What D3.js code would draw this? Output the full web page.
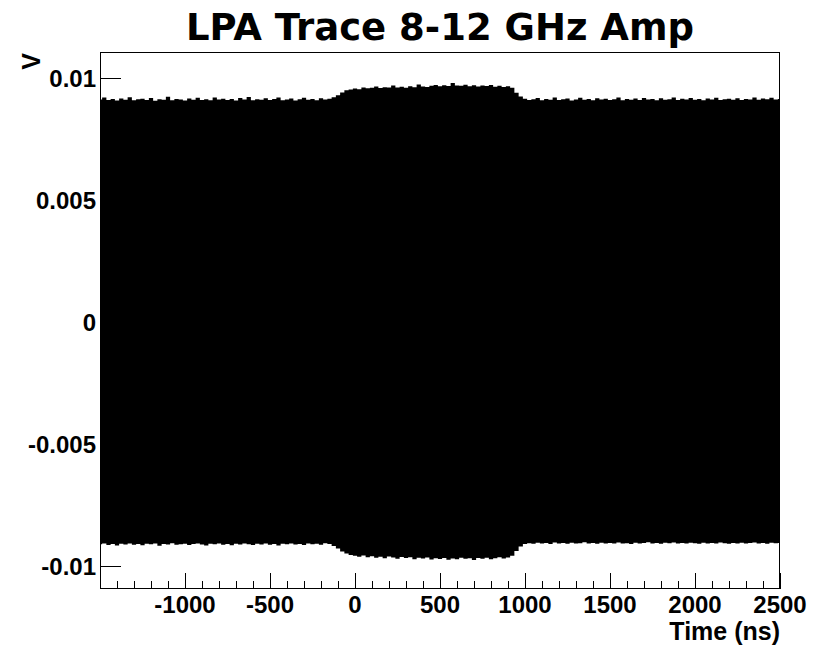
<!DOCTYPE html>
<html>
<head>
<meta charset="utf-8">
<script src="https://cdnjs.cloudflare.com/ajax/libs/d3/7.8.5/d3.min.js"></script>
<style>
body { margin: 0; background: #fff; }
</style>
</head>
<body>
<div id="chart-area"></div>
<script>
// sample times (ns) of the envelope, every 25 ns
var times = [
    -1500, -1475, -1450, -1425, -1400, -1375, -1350, -1325, -1300, -1275,
    -1250, -1225, -1200, -1175, -1150, -1125, -1100, -1075, -1050, -1025,
    -1000, -975, -950, -925, -900, -875, -850, -825, -800, -775,
    -750, -725, -700, -675, -650, -625, -600, -575, -550, -525,
    -500, -475, -450, -425, -400, -375, -350, -325, -300, -275,
    -250, -225, -200, -175, -150, -125, -100, -75, -50, -25,
    0, 25, 50, 75, 100, 125, 150, 175, 200, 225,
    250, 275, 300, 325, 350, 375, 400, 425, 450, 475,
    500, 525, 550, 575, 600, 625, 650, 675, 700, 725,
    750, 775, 800, 825, 850, 875, 900, 925, 950, 975,
    1000, 1025, 1050, 1075, 1100, 1125, 1150, 1175, 1200, 1225,
    1250, 1275, 1300, 1325, 1350, 1375, 1400, 1425, 1450, 1475,
    1500, 1525, 1550, 1575, 1600, 1625, 1650, 1675, 1700, 1725,
    1750, 1775, 1800, 1825, 1850, 1875, 1900, 1925, 1950, 1975,
    2000, 2025, 2050, 2075, 2100, 2125, 2150, 2175, 2200, 2225,
    2250, 2275, 2300, 2325, 2350, 2375, 2400, 2425, 2450, 2475,
    2500];

// upper envelope (mV)
var upperMV = [
    9.12, 9.20, 9.10, 9.14, 9.08, 9.16, 9.11, 9.22, 9.09, 9.13,
    9.15, 9.10, 9.18, 9.07, 9.13, 9.11, 9.24, 9.09, 9.14, 9.12,
    9.08, 9.16, 9.11, 9.19, 9.10, 9.13, 9.09, 9.21, 9.12, 9.15,
    9.10, 9.14, 9.08, 9.18, 9.12, 9.23, 9.09, 9.13, 9.11, 9.17,
    9.10, 9.14, 9.20, 9.09, 9.12, 9.16, 9.08, 9.13, 9.19, 9.11,
    9.14, 9.09, 9.17, 9.12, 9.15, 9.22, 9.30, 9.41, 9.50, 9.53,
    9.57, 9.54, 9.62, 9.58, 9.60, 9.66, 9.59, 9.63, 9.61, 9.70,
    9.62, 9.65, 9.60, 9.67, 9.63, 9.74, 9.66, 9.64, 9.69, 9.72,
    9.67, 9.71, 9.68, 9.80, 9.70, 9.69, 9.73, 9.67, 9.71, 9.66,
    9.70, 9.68, 9.72, 9.65, 9.69, 9.64, 9.67, 9.60, 9.40, 9.25,
    9.15, 9.10, 9.13, 9.18, 9.09, 9.14, 9.11, 9.20, 9.10, 9.13,
    9.16, 9.08, 9.12, 9.19, 9.11, 9.14, 9.09, 9.17, 9.12, 9.15,
    9.10, 9.13, 9.21, 9.09, 9.14, 9.11, 9.16, 9.10, 9.18, 9.12,
    9.14, 9.09, 9.17, 9.11, 9.13, 9.20, 9.10, 9.15, 9.12, 9.18,
    9.11, 9.14, 9.09, 9.16, 9.12, 9.19, 9.10, 9.13, 9.15, 9.11,
    9.17, 9.10, 9.14, 9.12, 9.20, 9.11, 9.16, 9.13, 9.19, 9.12,
    9.14];

// lower envelope (mV)
var lowerMV = [
    -9.11, -9.08, -9.14, -9.10, -9.16, -9.09, -9.12, -9.07, -9.13, -9.10,
    -9.15, -9.09, -9.11, -9.08, -9.17, -9.10, -9.12, -9.06, -9.13, -9.11,
    -9.09, -9.14, -9.10, -9.07, -9.12, -9.16, -9.09, -9.11, -9.08, -9.13,
    -9.10, -9.15, -9.09, -9.12, -9.07, -9.11, -9.14, -9.09, -9.12, -9.08,
    -9.13, -9.10, -9.16, -9.09, -9.11, -9.07, -9.12, -9.10, -9.14, -9.08,
    -9.11, -9.09, -9.13, -9.06, -9.10, -9.18, -9.28, -9.40, -9.49, -9.55,
    -9.58, -9.62, -9.57, -9.64, -9.60, -9.66, -9.62, -9.68, -9.61, -9.65,
    -9.70, -9.63, -9.67, -9.64, -9.72, -9.66, -9.69, -9.65, -9.73, -9.68,
    -9.71, -9.67, -9.74, -9.69, -9.72, -9.66, -9.70, -9.68, -9.75, -9.67,
    -9.70, -9.66, -9.72, -9.68, -9.64, -9.69, -9.65, -9.58, -9.38, -9.20,
    -9.10, -9.06, -9.09, -9.04, -9.08, -9.05, -9.10, -9.03, -9.07, -9.05,
    -9.09, -9.04, -9.07, -9.06, -9.02, -9.08, -9.05, -9.09, -9.04, -9.07,
    -9.05, -9.08, -9.03, -9.07, -9.06, -9.10, -9.04, -9.07, -9.05, -9.02,
    -9.08, -9.05, -9.09, -9.04, -9.06, -9.03, -9.08, -9.05, -9.07, -9.04,
    -9.06, -9.09, -9.04, -9.07, -9.05, -9.08, -9.03, -9.06, -9.09, -9.05,
    -9.07, -9.04, -9.08, -9.05, -9.03, -9.07, -9.05, -9.09, -9.04, -9.06,
    -9.05];

var xMajorTicks = [-1000, -500, 0, 500, 1000, 1500, 2000, 2500];
var xTickLabels = ["-1000", "-500", "0", "500", "1000", "1500", "2000", "2500"];
var yMajorTicks = [-0.01, -0.005, 0, 0.005, 0.01];
var yTickLabels = ["-0.01", "-0.005", "0", "0.005", "0.01"];

var W = 822, H = 648;
var frame = { left: 100, right: 780, top: 52, bottom: 589 };

var svg = d3.select("#chart-area")
    .append("svg")
    .attr("width", W)
    .attr("height", H);

var x = d3.scaleLinear()
    .domain([-1500, 2500])
    .range([frame.left, frame.right]);

var y = d3.scaleLinear()
    .domain([-0.01094, 0.01107])
    .range([frame.bottom, frame.top]);

var trace = times.map(function(t, i) {
    return { t: t, hi: upperMV[i] / 1000, lo: lowerMV[i] / 1000 };
});

var area = d3.area()
    .curve(d3.curveStep)
    .x(function(d) { return x(d.t); })
    .y0(function(d) { return y(d.lo); })
    .y1(function(d) { return y(d.hi); });

svg.append("defs").append("clipPath")
    .attr("id", "frame-clip")
    .append("rect")
    .attr("x", frame.left)
    .attr("y", frame.top)
    .attr("width", frame.right - frame.left)
    .attr("height", frame.bottom - frame.top);

svg.append("path")
    .datum(trace)
    .attr("clip-path", "url(#frame-clip)")
    .attr("d", area)
    .attr("fill", "#000");

// frame
svg.append("rect")
    .attr("x", frame.left + 0.5)
    .attr("y", frame.top + 0.5)
    .attr("width", frame.right - frame.left - 1)
    .attr("height", frame.bottom - frame.top - 1)
    .attr("fill", "none")
    .attr("stroke", "#000")
    .attr("stroke-width", 1);

// x ticks (ROOT style, pointing up into the frame)
var xMinor = d3.range(-1500, 2501, 100);
svg.append("g").selectAll("line")
    .data(xMinor)
    .enter()
    .append("line")
    .attr("x1", function(d) { return Math.round(x(d)) + 0.5; })
    .attr("x2", function(d) { return Math.round(x(d)) + 0.5; })
    .attr("y1", frame.bottom)
    .attr("y2", function(d) { return d % 500 === 0 ? frame.bottom - 16 : frame.bottom - 8; })
    .attr("stroke", "#000")
    .attr("stroke-width", 1);

svg.append("g").selectAll("text")
    .data(xMajorTicks)
    .enter()
    .append("text")
    .attr("x", function(d) { return x(d); })
    .attr("y", 613)
    .attr("text-anchor", "middle")
    .attr("font-family", "Liberation Sans, Arial, sans-serif")
    .attr("font-weight", "bold")
    .attr("font-size", "24px")
    .text(function(d, i) { return xTickLabels[i]; });

// y ticks
svg.append("g").selectAll("line")
    .data(yMajorTicks)
    .enter()
    .append("line")
    .attr("x1", frame.left)
    .attr("x2", frame.left + 21)
    .attr("y1", function(d) { return Math.round(y(d)) + 0.5; })
    .attr("y2", function(d) { return Math.round(y(d)) + 0.5; })
    .attr("stroke", "#000")
    .attr("stroke-width", 1);

svg.append("g").selectAll("text")
    .data(yMajorTicks)
    .enter()
    .append("text")
    .attr("x", 96)
    .attr("y", function(d) { return y(d) + 8.5; })
    .attr("text-anchor", "end")
    .attr("font-family", "Liberation Sans, Arial, sans-serif")
    .attr("font-weight", "bold")
    .attr("font-size", "24px")
    .text(function(d, i) { return yTickLabels[i]; });

// axis titles
svg.append("text")
    .attr("x", frame.right)
    .attr("y", 640)
    .attr("text-anchor", "end")
    .attr("font-family", "Liberation Sans, Arial, sans-serif")
    .attr("font-weight", "bold")
    .attr("font-size", "25px")
    .text("Time (ns)");

svg.append("text")
    .attr("transform", "translate(40," + (frame.top + 1) + ") rotate(-90)")
    .attr("text-anchor", "end")
    .attr("font-family", "Liberation Sans, Arial, sans-serif")
    .attr("font-weight", "bold")
    .attr("font-size", "25px")
    .text("V");

// title
svg.append("text")
    .attr("x", 440)
    .attr("y", 40)
    .attr("text-anchor", "middle")
    .attr("font-family", "DejaVu Sans, sans-serif")
    .attr("font-weight", "bold")
    .attr("font-size", "37px")
    .text("LPA Trace 8-12 GHz Amp");
</script>
</body>
</html>
